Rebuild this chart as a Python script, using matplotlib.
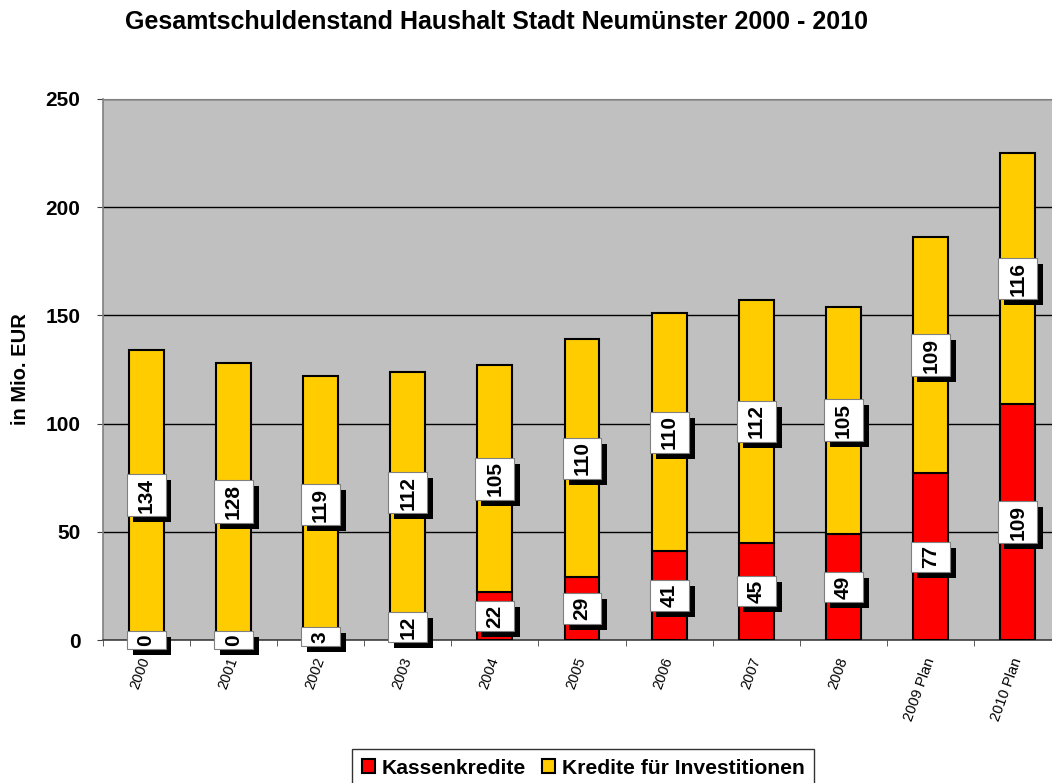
import matplotlib
matplotlib.use('Agg')
import matplotlib.pyplot as plt
import matplotlib.patheffects as pe
import numpy as np

# Werte in Mio. EUR
jahre = ['2000', '2001', '2002', '2003', '2004', '2005', '2006', '2007', '2008', '2009 Plan', '2010 Plan']
kassenkredite = [0, 0, 3, 12, 22, 29, 41, 45, 49, 77, 109]
investitionen = [134, 128, 119, 112, 105, 110, 110, 112, 105, 109, 116]

plt.rcParams['font.family'] = ['Liberation Sans', 'DejaVu Sans']

fig = plt.figure(figsize=(10.52, 7.83), dpi=100)
# Plotfläche reicht rechts etwas über den Bildrand hinaus
ax = fig.add_axes([102.5 / 1052, 143 / 783, 959 / 1052, 541 / 783])
ax.set_facecolor('#C0C0C0')

x = np.arange(len(jahre))
b1 = ax.bar(x, kassenkredite, width=0.4, color='#FF0000', edgecolor='black', linewidth=1.5,
            label='Kassenkredite', zorder=3)
b2 = ax.bar(x, investitionen, width=0.4, bottom=kassenkredite, color='#FFCC00', edgecolor='black',
            linewidth=1.5, label='Kredite für Investitionen', zorder=3)

shadow = [pe.withSimplePatchShadow(offset=(4.3, -4.3), shadow_rgbFace='black', alpha=1.0)]


def wert_label(xp, yp, val):
    t = ax.text(xp, yp, str(val), rotation=90, ha='center', va='center', fontsize=15,
                fontweight='bold', zorder=5,
                bbox=dict(boxstyle='square,pad=0.17', mutation_aspect=2.8, facecolor='white',
                          edgecolor='#808080', linewidth=0.8))
    t.get_bbox_patch().set_path_effects(shadow)


for i in range(len(jahre)):
    wert_label(x[i], kassenkredite[i] / 2, kassenkredite[i])
    wert_label(x[i], kassenkredite[i] + investitionen[i] / 2, investitionen[i])

ax.set_xlim(-0.5, len(jahre) - 0.5)
ax.set_ylim(0, 250)
ax.set_yticks([0, 50, 100, 150, 200, 250])
ax.set_yticklabels(['0', '50', '100', '150', '200', '250'], fontsize=15, fontweight='bold')
ax.yaxis.grid(True, color='black', linewidth=1.0, zorder=1)
ax.set_axisbelow(True)

ax.set_xticks(x)
ax.set_xticklabels(jahre, rotation=70, ha='right', va='center', rotation_mode='anchor', fontsize=10.5)
ax.tick_params(axis='x', which='major', length=0, pad=13)
ax.set_xticks(np.arange(-0.5, len(jahre), 1), minor=True)
ax.tick_params(axis='x', which='minor', length=4, direction='out', color='#404040')
ax.tick_params(axis='y', length=4, direction='out', color='#404040', pad=12)

for s in ['left', 'top']:
    ax.spines[s].set_color('#808080')
ax.spines['left'].set_linewidth(1.2)
ax.spines['right'].set_visible(False)
ax.spines['bottom'].set_color('#404040')
ax.spines['bottom'].set_linewidth(1.2)

ax.set_ylabel('in Mio. EUR', fontsize=14.5, fontweight='bold', labelpad=11)

fig.text(0.472, 0.972, 'Gesamtschuldenstand Haushalt Stadt Neumünster 2000 - 2010', ha='center', va='center',
         fontsize=18, fontweight='bold')

leg = fig.legend(handles=[b1, b2], loc='upper left', bbox_to_anchor=(352 / 1052, 34 / 783), ncol=2,
                 frameon=True, fancybox=False, edgecolor='black',
                 prop={'weight': 'bold', 'size': 15.2}, handlelength=0.65, handleheight=0.65,
                 handletextpad=0.3, columnspacing=0.75, borderpad=0.45, borderaxespad=0)
leg.get_frame().set_linewidth(1.0)

fig.savefig('out.png', dpi=100)
